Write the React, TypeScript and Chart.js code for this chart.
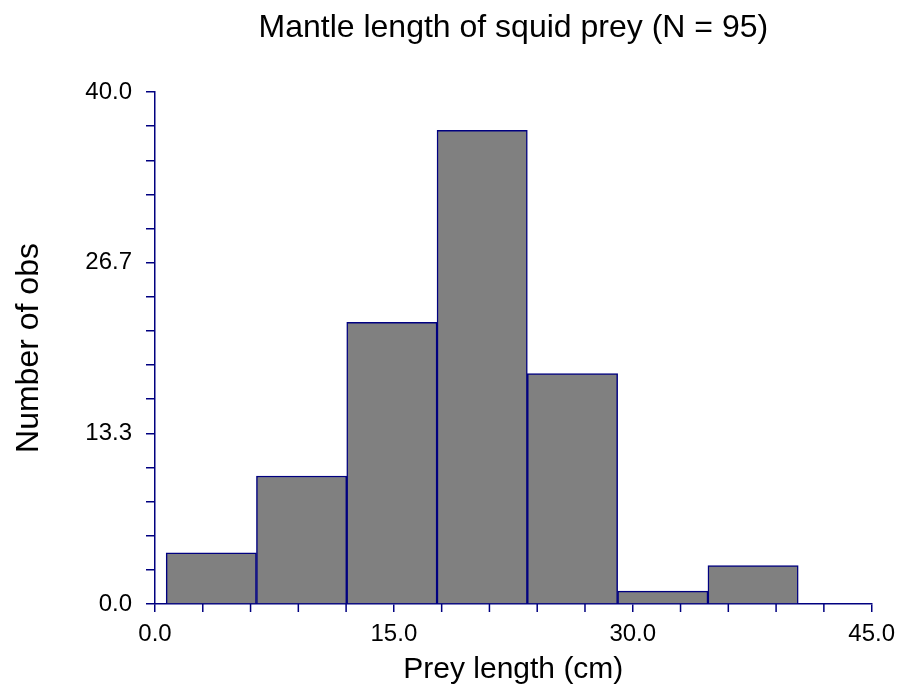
import React, { useEffect, useRef } from 'react';
import { Chart, registerables } from 'chart.js';

Chart.register(...registerables);

// Histogram bins (cm) and counts
const binEdges = [0.7, 6.37, 12.04, 17.71, 23.38, 29.05, 34.72, 40.39];
const counts = [4, 10, 22, 37, 18, 1, 3];

// Axes
const xMin = 0;
const xMax = 45;
const xMajorStep = 15;
const xMinorTicks = [3, 6, 9, 12, 18, 21, 24, 27, 33, 36, 39, 42];
const yMin = 0;
const yMax = 40;
const yMinorStep = 40 / 15;
const yLabelEvery = 5;

const titleText = 'Mantle length of squid prey (N = 95)';
const xTitleText = 'Prey length (cm)';
const yTitleText = 'Number of obs';

const NAVY = '#000080';
const FONT = "'Liberation Sans', Arial, sans-serif";
const LW = 1.5;

const minorTicksPlugin = {
  id: 'minorTicks',
  afterDraw(chart: any) {
    const x = chart.scales.x;
    const ctx = chart.ctx;
    const y0 = chart.chartArea.bottom;
    ctx.save();
    ctx.strokeStyle = NAVY;
    ctx.lineWidth = LW;
    ctx.beginPath();
    for (const v of xMinorTicks) {
      const px = x.getPixelForValue(v);
      ctx.moveTo(px, y0);
      ctx.lineTo(px, y0 + 8);
    }
    ctx.stroke();
    ctx.restore();
  },
};

export default function App() {
  const ref = useRef<HTMLCanvasElement | null>(null);

  useEffect(() => {
    if (!ref.current) return;
    const data = counts.map((c, i) => ({ x: (binEdges[i] + binEdges[i + 1]) / 2, y: c }));
    const chart = new Chart(ref.current, {
      type: 'bar',
      data: {
        datasets: [
          {
            data,
            backgroundColor: '#808080',
            borderColor: NAVY,
            borderWidth: LW,
            barPercentage: 1,
            categoryPercentage: 1,
          } as any,
        ],
      },
      plugins: [minorTicksPlugin],
      options: {
        animation: false,
        responsive: true,
        maintainAspectRatio: false,
        layout: { padding: { left: 0, right: 30, top: 0, bottom: 0 } },
        plugins: {
          legend: { display: false },
          tooltip: { enabled: false },
          title: {
            display: true,
            text: titleText,
            fullSize: false,
            color: '#000',
            font: { family: FONT, size: 32, weight: 'normal' },
            padding: { top: 9, bottom: 44.6 },
          },
        },
        scales: {
          x: {
            type: 'linear',
            min: xMin,
            max: xMax,
            offset: false,
            afterFit: (s: any) => {
              s.height = 88;
            },
            border: { color: NAVY, width: LW },
            grid: { display: true, drawOnChartArea: false, drawTicks: true, tickLength: 8, color: NAVY, lineWidth: LW, offset: false },
            ticks: {
              stepSize: xMajorStep,
              color: '#000',
              padding: 8,
              maxRotation: 0,
              autoSkip: false,
              font: { family: FONT, size: 24 },
              callback: (v: any) => Number(v).toFixed(1),
            },
            title: {
              display: true,
              text: xTitleText,
              color: '#000',
              font: { family: FONT, size: 30 },
              padding: { top: 0, bottom: 4 },
            },
          },
          y: {
            type: 'linear',
            min: yMin,
            max: yMax,
            afterFit: (s: any) => {
              s.width = 155;
            },
            border: { color: NAVY, width: LW },
            grid: { display: true, drawOnChartArea: false, drawTicks: true, tickLength: 9, color: NAVY, lineWidth: LW },
            ticks: {
              stepSize: yMinorStep,
              color: '#000',
              padding: 14,
              autoSkip: false,
              font: { family: FONT, size: 24 },
              callback: (v: any, i: number) => (i % yLabelEvery === 0 ? Number(v).toFixed(1) : ''),
            },
            title: {
              display: true,
              text: yTitleText,
              color: '#000',
              font: { family: FONT, size: 32 },
              padding: { top: 10, bottom: 0 },
            },
          },
        },
      } as any,
    });
    return () => chart.destroy();
  }, []);

  return (
    <div style={{ position: 'fixed', left: 0, top: 0, width: 903, height: 692, background: '#fff' }}>
      <canvas ref={ref} />
    </div>
  );
}
